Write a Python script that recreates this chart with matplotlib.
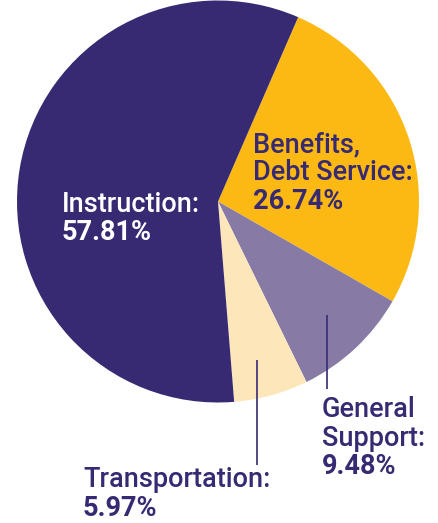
import matplotlib
matplotlib.use("Agg")
import matplotlib.pyplot as plt

categories = ["Benefits, Debt Service", "General Support", "Transportation", "Instruction"]
values = [26.74, 9.48, 5.97, 57.81]
label_names = ["Benefits,\nDebt Service:", "General\nSupport:", "Transportation:", "Instruction:"]
label_pcts = ["26.74%", "9.48%", "5.97%", "57.81%"]
colors = ["#fdb913", "#877ba6", "#fee6bb", "#372a72"]

W, H = 438, 523
fig = plt.figure(figsize=(W / 100, H / 100), dpi=100)
fig.patch.set_facecolor("white")

cx, cy, r = 218, 201.5, 201
ax = fig.add_axes([(cx - r) / W, (H - cy - r) / H, 2 * r / W, 2 * r / H])

ax.pie(values, colors=colors, startangle=66.5, counterclock=False, radius=1,
       wedgeprops=dict(linewidth=0))
ax.set_xlim(-1, 1)
ax.set_ylim(-1, 1)
ax.set_aspect("equal")
ax.axis("off")

dark = "#372a72"
FS = 19.5

def px(x, y):
    return (x - cx) / r, (cy - y) / r

# label layout: (left x px, first baseline y px, text color)
layout = {
    "Benefits, Debt Service": (253, 152, dark),
    "General Support": (322, 417, dark),
    "Transportation": (83, 487, dark),
    "Instruction": (62, 212, "white"),
}
line_h = 28.5

for cat, name, pct in zip(categories, label_names, label_pcts):
    x0, y0, col = layout[cat]
    lines = name.split("\n")
    for i, ln in enumerate(lines):
        ax.text(*px(x0, y0 + i * line_h), ln, color=col, fontsize=FS,
                family=["Roboto", "DejaVu Sans"], fontweight="medium",
                ha="left", va="baseline", clip_on=False)
    ax.text(*px(x0, y0 + len(lines) * line_h), pct, color=col, fontsize=FS,
            family=["Roboto", "DejaVu Sans"], fontweight="bold",
            ha="left", va="baseline", clip_on=False)

# leader lines
leaders = [((327, 315), (327, 389)), ((257, 360), (257, 465))]
for (x1, y1), (x2, y2) in leaders:
    a, b = px(x1, y1)
    c, d = px(x2, y2)
    ax.plot([a, c], [b, d], color=dark, lw=1.2, clip_on=False, solid_capstyle="butt")

fig.savefig("out.png", dpi=100, facecolor="white")
